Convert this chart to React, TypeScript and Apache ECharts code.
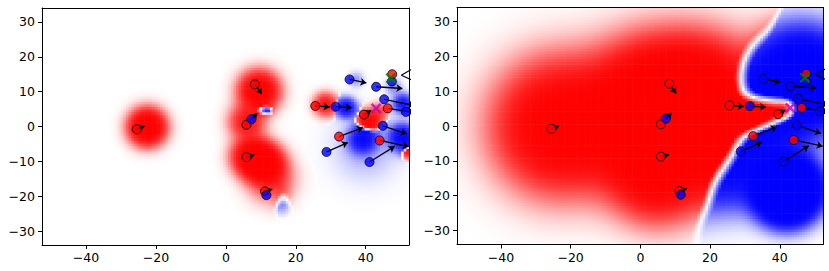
import React, { useEffect, useRef } from "react";
import * as echarts from "echarts";

// ---- axis ranges & ticks ----
const X_MIN = -52.6;
const X_MAX = 52.4;
const Y_MIN = -34;
const Y_MAX = 34;
const xTicks = [-40, -20, 0, 20, 40];
const yTicks = [-30, -20, -10, 0, 10, 20, 30];

// ---- scatter points (same in both panels); class 0 = red, 1 = blue ----
const pointX = [-25.5, 8.3, 5.9, 7.3, 5.9, 11.2, 11.6, 25.6, 31.4, 35.4, 43.0, 47.5, 47.6, 45.3, 46.3, 51.5, 39.5, 44.9, 32.4, 44.0, 28.8, 41.1];
const pointY = [-0.8, 12.1, 0.5, 2.1, -8.8, -18.6, -19.7, 5.9, 5.7, 13.5, 11.4, 12.9, 15.0, 7.8, 5.2, 4.2, 3.4, 0.2, -2.9, -4.0, -7.3, -10.2];
const pointClass = [0, 0, 0, 1, 0, 0, 1, 0, 1, 1, 1, 1, 0, 1, 0, 1, 0, 1, 0, 0, 1, 1];

// ---- arrows (start -> end) ----
const arrowX0 = [-25.5, 8.3, 7.3, 5.9, 11.2, 25.6, 31.4, 35.4, 43.0, 45.3, 46.3, 39.5, 44.9, 32.4, 44.0, 28.8, 41.1];
const arrowY0 = [-0.8, 12.1, 2.1, -8.8, -18.6, 5.9, 5.7, 13.5, 11.4, 7.8, 5.2, 3.4, 0.2, -2.9, -4.0, -7.3, -10.2];
const arrowX1 = [-23.3, 10.3, 9.0, 8.2, 13.3, 29.7, 36.0, 40.2, 50.5, 54.0, 54.0, 41.6, 51.8, 39.2, 52.3, 34.9, 48.3];
const arrowY1 = [0.1, 9.3, 3.8, -8.2, -18.0, 5.6, 5.4, 12.5, 10.9, 6.0, 4.0, 4.6, -2.1, -0.3, -5.8, -4.6, -5.7];

// ---- line segments entering from beyond the right edge ----
const edgeX0 = [50.2, 50.2];
const edgeY0 = [14.7, 14.7];
const edgeX1 = [55.0, 55.0];
const edgeY1 = [17.5, 12.5];

// ---- cross markers ----
const crossX = [43.0, 47.2];
const crossY = [5.2, 13.9];
const crossColor = ["#bf00bf", "#008000"];

// ---- left panel field sources (x, y, weight: + red / - blue, spread) ----
const leftSrcX = [-22.5, 9.5, 7.5, 11, 6, 13, 9.8, 11, 12.2, 16, 16, 16, 28.5, 34.5, 37.3, 41, 44, 39.2, 50.5, 50.7, 52.5, 48, 40];
const leftSrcY = [0, 10.3, -8.5, -10.5, 1.5, -15, 5.0, 5.1, 5.0, -18, -20.5, -23, 6.5, 5.5, 13.6, 1.7, 4.5, -3.5, -3, 6.7, -7, 11.5, -6];
const leftSrcA = [6, 5, 5, 5, 2.5, 1.5, -1.4, -1.4, -1.4, -0.3, -0.3, -0.3, 2.5, -3, -0.5, 3.5, 1.2, -3, -3.5, -2.5, 2, -0.6, -0.4];
const leftSrcS = [3, 3.3, 3.2, 3.2, 3, 4, 0.9, 0.9, 0.9, 1.5, 1.5, 1.5, 2, 1.7, 1.4, 1.9, 1.5, 2.4, 2.3, 1.7, 1.3, 1.5, 6];

// ---- right panel: class sources (decide red / blue) ----
const rightClsX = [-23, 5, 5, 30, 34, 38, 41.5, 37, 52, 43, 26, 24];
const rightClsY = [0, 3, -14, 3, 3.5, 4, 4.8, 12, 22, -13, -18, -28];
const rightClsA = [2.8, 2.9, 1.2, 1.4, 1.4, 1.4, 1.0, -1.3, -3, -6, -0.9, -0.6];
const rightClsS = [12.2, 14.2, 8, 2.8, 2.8, 2.8, 2, 6, 5, 8, 5, 5];
// ---- right panel: intensity sources (how strong the colour is) ----
const rightIntX = [-23, 5, 5, 46, 42, 35, 18, 25];
const rightIntY = [0, 3, -14, 13, -18, 0, 10, -12];
const rightIntA = [5.4, 11.2, 3.4, 10, 24, 3, 4, 3];
const rightIntS = [10.5, 10.8, 7.75, 7.75, 4.8, 8, 9, 7];

const CELL = 0.75;
const SHARP = 3;

function kernelSum(x: number, y: number, sx: number[], sy: number[], sa: number[], ss: number[], sign: number) {
  let t = 0;
  for (let i = 0; i < sx.length; i++) {
    if (sign !== 0 && Math.sign(sa[i]) !== sign) continue;
    const dx = x - sx[i];
    const dy = y - sy[i];
    t += Math.abs(sa[i]) * Math.exp(-(dx * dx + dy * dy) / (2 * ss[i] * ss[i]));
  }
  return t;
}

function buildField(
  cx: number[], cy: number[], ca: number[], cs: number[],
  ix: number[], iy: number[], ia: number[], is: number[]
) {
  const out: number[][] = [];
  for (let x = X_MIN + CELL / 2; x < X_MAX; x += CELL) {
    for (let y = Y_MIN + CELL / 2; y < Y_MAX; y += CELL) {
      const r = kernelSum(x, y, cx, cy, ca, cs, 1);
      const b = kernelSum(x, y, cx, cy, ca, cs, -1);
      if (r + b <= 0) continue;
      const s = Math.max(-1, Math.min(1, (SHARP * (r - b)) / (r + b)));
      const d = kernelSum(x, y, ix, iy, ia, is, 0);
      const v = s * (1 - Math.exp(-d));
      if (Math.abs(v) > 0.004) out.push([x, y, v]);
    }
  }
  return out;
}

const fmt = (v: number) => String(v).replace("-", "\u2212");

export default function App() {
  const ref = useRef<HTMLDivElement>(null);
  useEffect(() => {
    if (!ref.current) return;
    const chart = echarts.init(ref.current, undefined, { renderer: "svg" });
    const font = "DejaVu Sans";
    const grids = [
      { left: 42, top: 8, width: 367, height: 237 },
      { left: 457, top: 7.5, width: 366, height: 237 },
    ];
    const mkX = (g: number, main: boolean) => ({
      type: "value",
      gridIndex: g,
      min: X_MIN,
      max: X_MAX,
      position: main ? "bottom" : "top",
      z: 10,
      axisLine: { show: true, onZero: false, lineStyle: { color: "#000", width: 1 } },
      axisTick: main
        ? { show: true, inside: false, length: 4, lineStyle: { color: "#000", width: 1 }, customValues: xTicks }
        : { show: false },
      axisLabel: main
        ? { show: true, customValues: xTicks, formatter: fmt, color: "#000", fontFamily: font, fontSize: 12.5, margin: 6 }
        : { show: false },
      splitLine: { show: false },
    });
    const mkY = (g: number, main: boolean) => ({
      type: "value",
      gridIndex: g,
      min: Y_MIN,
      max: Y_MAX,
      position: main ? "left" : "right",
      z: 10,
      axisLine: { show: true, onZero: false, lineStyle: { color: "#000", width: 1 } },
      axisTick: main
        ? { show: true, inside: false, length: 4, lineStyle: { color: "#000", width: 1 }, customValues: yTicks }
        : { show: false },
      axisLabel: main
        ? { show: true, customValues: yTicks, formatter: fmt, color: "#000", fontFamily: font, fontSize: 12.5, margin: 7 }
        : { show: false },
      splitLine: { show: false },
    });

    const fields = [
      buildField(leftSrcX, leftSrcY, leftSrcA, leftSrcS, leftSrcX, leftSrcY, leftSrcA, leftSrcS),
      buildField(rightClsX, rightClsY, rightClsA, rightClsS, rightIntX, rightIntY, rightIntA, rightIntS),
    ];

    const series: any[] = [];
    [0, 1].forEach((g) => {
      series.push({
        type: "custom",
        xAxisIndex: g,
        yAxisIndex: g,
        data: fields[g],
        clip: true,
        silent: true,
        z: 1,
        progressive: 0,
        encode: { x: 0, y: 1 },
        renderItem: (params: any, api: any) => {
          const x = api.value(0);
          const y = api.value(1);
          const p = api.coord([x - CELL / 2, y + CELL / 2]);
          const s = api.size([CELL, CELL]);
          return {
            type: "rect",
            shape: { x: p[0], y: p[1], width: s[0] + 0.6, height: s[1] + 0.6 },
            style: { fill: api.visual("color") },
          };
        },
      });
    });
    [0, 1].forEach((g) => {
      series.push({
        type: "lines",
        coordinateSystem: "cartesian2d",
        xAxisIndex: g,
        yAxisIndex: g,
        clip: true,
        silent: true,
        z: 3,
        symbol: ["none", "arrow"],
        symbolSize: 6,
        lineStyle: { color: "#000", width: 1.3, opacity: 1, curveness: 0 },
        data: arrowX0.map((x0, i) => ({ coords: [[x0, arrowY0[i]], [arrowX1[i], arrowY1[i]]] })),
      });
      series.push({
        type: "lines",
        coordinateSystem: "cartesian2d",
        xAxisIndex: g,
        yAxisIndex: g,
        clip: true,
        silent: true,
        z: 3,
        symbol: ["none", "none"],
        lineStyle: { color: "#000", width: 1.2, opacity: 1, curveness: 0 },
        data: edgeX0.map((x0, i) => ({ coords: [[x0, edgeY0[i]], [edgeX1[i], edgeY1[i]]] })),
      });
      series.push({
        type: "scatter",
        xAxisIndex: g,
        yAxisIndex: g,
        silent: true,
        z: 4,
        progressive: 0,
        symbol: "circle",
        symbolSize: 9,
        data: pointX.map((x, i) => ({
          value: [x, pointY[i]],
          itemStyle: { color: pointClass[i] === 0 ? "#ff0000" : "#0000ff", borderColor: "#000", borderWidth: 1 },
        })),
      });
      series.push({
        type: "scatter",
        xAxisIndex: g,
        yAxisIndex: g,
        silent: true,
        z: 5,
        progressive: 0,
        symbol: "path://M0,0L10,10M10,0L0,10",
        symbolSize: 9,
        data: crossX.map((x, i) => ({
          value: [x, crossY[i]],
          itemStyle: { color: crossColor[i], borderColor: crossColor[i], borderWidth: 2.4 },
        })),
      });
    });

    chart.setOption({
      animation: false,
      backgroundColor: "#fff",
      grid: grids,
      xAxis: [mkX(0, true), mkX(1, true), mkX(0, false), mkX(1, false)],
      yAxis: [mkY(0, true), mkY(1, true), mkY(0, false), mkY(1, false)],
      visualMap: {
        type: "continuous",
        show: false,
        min: -1,
        max: 1,
        dimension: 2,
        seriesIndex: [0, 1],
        inRange: { color: ["#0000ff", "#ffffff", "#ff0000"] },
      },
      series,
    });
    return () => chart.dispose();
  }, []);
  return (
    <div
      ref={ref}
      style={{ position: "fixed", left: 0, top: 0, width: 829, height: 271, background: "#fff" }}
    />
  );
}
